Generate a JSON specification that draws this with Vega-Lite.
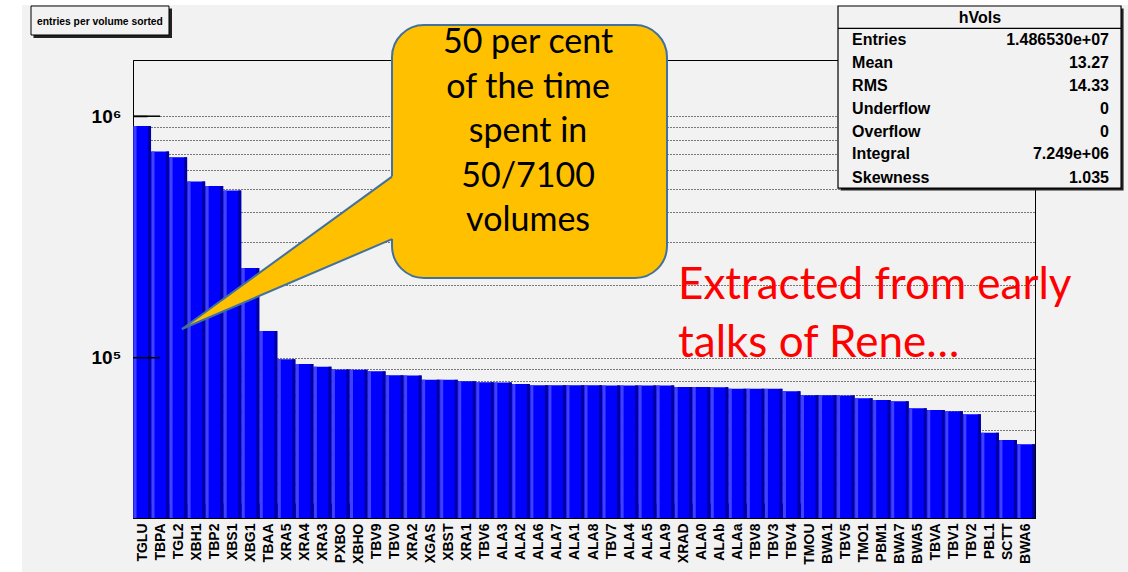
{
  "$schema": "https://vega.github.io/schema/vega-lite/v6.json",
  "width": 902,
  "height": 458,
  "autosize": {"type": "none"},
  "padding": {"left": 133, "top": 60, "right": 93, "bottom": 54},
  "background": "#f2f2f2",
  "config": {"view": {"stroke": "#000000", "strokeWidth": 1, "fill": "#f2f2f2"}},
  "datasets": {
    "bars": [
      {"name": "TGLU", "value": 911000}, {"name": "TBPA", "value": 715000}, {"name": "TGL2", "value": 676000},
      {"name": "XBH1", "value": 536000}, {"name": "TBP2", "value": 514000}, {"name": "XBS1", "value": 492000},
      {"name": "XBG1", "value": 235000}, {"name": "TBAA", "value": 129000}, {"name": "XRA5", "value": 98500},
      {"name": "XRA4", "value": 94200}, {"name": "XRA3", "value": 91800}, {"name": "PXBO", "value": 89400},
      {"name": "XBHO", "value": 89200}, {"name": "TBV9", "value": 87800}, {"name": "TBV0", "value": 84500},
      {"name": "XRA2", "value": 84400}, {"name": "XGAS", "value": 81100}, {"name": "XBST", "value": 81000},
      {"name": "XRA1", "value": 79800}, {"name": "TBV6", "value": 79100}, {"name": "ALA3", "value": 79000},
      {"name": "ALA2", "value": 77800}, {"name": "ALA6", "value": 76900}, {"name": "ALA7", "value": 76900},
      {"name": "ALA1", "value": 76900}, {"name": "ALA8", "value": 76900}, {"name": "TBV7", "value": 76800},
      {"name": "ALA4", "value": 76800}, {"name": "ALA5", "value": 76800}, {"name": "ALA9", "value": 76800},
      {"name": "XRAD", "value": 75600}, {"name": "ALA0", "value": 75600}, {"name": "ALAb", "value": 75500},
      {"name": "ALAa", "value": 74400}, {"name": "TBV8", "value": 74400}, {"name": "TBV3", "value": 74300},
      {"name": "TBV4", "value": 72600}, {"name": "TMOU", "value": 69900}, {"name": "BWA1", "value": 69900},
      {"name": "TBV5", "value": 69800}, {"name": "TMO1", "value": 67900}, {"name": "PBM1", "value": 66800},
      {"name": "BWA7", "value": 66000}, {"name": "BWA5", "value": 61700}, {"name": "TBVA", "value": 60700},
      {"name": "TBV1", "value": 60000}, {"name": "TBV2", "value": 58300}, {"name": "PBL1", "value": 48900},
      {"name": "SCTT", "value": 45600}, {"name": "BWA6", "value": 43800}
    ]
  },
  "layer": [
    {
      "data": {"name": "bars"},
      "mark": {"type": "bar", "color": "#0000ff", "width": {"band": 1}},
      "encoding": {
        "x": {
          "field": "name", "type": "nominal", "sort": null,
          "scale": {"paddingInner": 0, "paddingOuter": 0},
          "axis": {
            "title": null, "labelAngle": -90, "labelAlign": "right", "labelBaseline": "middle",
            "labelFont": "Liberation Sans", "labelFontWeight": "bold", "labelFontSize": 14,
            "labelColor": "#000000", "labelPadding": 20, "labelOverlap": false,
            "tickBand": "extent", "tickSize": -15, "tickColor": "#000000", "tickWidth": 1,
            "domainColor": "#000000", "domainWidth": 1
          }
        },
        "y": {
          "field": "value", "type": "quantitative", "stack": null,
          "scale": {"type": "log", "domain": [21690, 1709000], "nice": false},
          "axis": {
            "title": null,
            "values": [30000, 40000, 50000, 60000, 70000, 80000, 90000, 100000, 200000, 300000, 400000, 500000, 600000, 700000, 800000, 900000, 1000000],
            "labelExpr": "datum.value == 100000 ? '10⁵' : (datum.value == 1000000 ? '10⁶' : '')",
            "labelOverlap": false, "labelFont": "Liberation Sans", "labelFontWeight": "bold",
            "labelFontSize": 19, "labelColor": "#000000", "labelPadding": 26,
            "tickSize": -14, "tickColor": "#000000", "tickWidth": 1.5,
            "grid": true, "gridColor": "#000000", "gridDash": [1, 2], "gridWidth": 1, "gridOpacity": 1,
            "domainColor": "#000000", "domainWidth": 1
          }
        }
      }
    },
    {
      "data": {"name": "bars"},
      "mark": {"type": "bar", "color": "#4040ff", "width": {"band": 0.166}, "xOffset": -7.0},
      "encoding": {
        "x": {"field": "name", "type": "nominal", "sort": null, "scale": {"paddingInner": 0, "paddingOuter": 0}, "axis": null},
        "y": {"field": "value", "type": "quantitative", "stack": null, "scale": {"type": "log", "domain": [21690, 1709000], "nice": false}, "axis": null}
      }
    },
    {
      "data": {"name": "bars"},
      "mark": {"type": "bar", "color": "#0000a0", "width": {"band": 0.166}, "xOffset": 7.5},
      "encoding": {
        "x": {"field": "name", "type": "nominal", "sort": null, "scale": {"paddingInner": 0, "paddingOuter": 0}, "axis": null},
        "y": {"field": "value", "type": "quantitative", "stack": null, "scale": {"type": "log", "domain": [21690, 1709000], "nice": false}, "axis": null}
      }
    },
    {
      "data": {"values": [{"u": 0, "u2": 1.5, "v": 100000}, {"u": 0, "u2": 1.5, "v": 1000000}]},
      "mark": {"type": "rule", "color": "#000000", "strokeWidth": 1.5},
      "encoding": {
        "x": {"field": "u", "type": "quantitative", "scale": {"domain": [0, 50], "nice": false, "zero": false}, "axis": null},
        "x2": {"field": "u2"},
        "y": {"field": "v", "type": "quantitative", "scale": {"type": "log", "domain": [21690, 1709000], "nice": false}, "axis": null}
      }
    },
    {
      "data": {"values": [
        {"u": -8, "u2": -6.153, "v": 3330000, "v2": 12000},
        {"u": -8, "u2": 60, "v": 3330000, "v2": 2887000}
      ]},
      "mark": {"type": "rect", "color": "#ffffff"},
      "encoding": {
        "x": {"field": "u", "type": "quantitative", "scale": {"domain": [0, 50], "nice": false, "zero": false}, "axis": null},
        "x2": {"field": "u2"},
        "y": {"field": "v", "type": "quantitative", "scale": {"type": "log", "domain": [21690, 1709000], "nice": false}, "axis": null},
        "y2": {"field": "v2"}
      }
    },
    {
      "data": {"values": [{"u": -5.515, "u2": 2.162, "v": 2792000, "v2": 2107000}]},
      "mark": {"type": "rect", "color": "#222222"},
      "encoding": {
        "x": {"field": "u", "type": "quantitative", "scale": {"domain": [0, 50], "nice": false, "zero": false}, "axis": null},
        "x2": {"field": "u2"},
        "y": {"field": "v", "type": "quantitative", "scale": {"type": "log", "domain": [21690, 1709000], "nice": false}, "axis": null},
        "y2": {"field": "v2"}
      }
    },
    {
      "data": {"values": [{"u": -5.654, "u2": 1.995, "v": 2860000, "v2": 2169000}]},
      "mark": {"type": "rect", "fill": "#f2f2f2", "stroke": "#000000", "strokeWidth": 1},
      "encoding": {
        "x": {"field": "u", "type": "quantitative", "scale": {"domain": [0, 50], "nice": false, "zero": false}, "axis": null},
        "x2": {"field": "u2"},
        "y": {"field": "v", "type": "quantitative", "scale": {"type": "log", "domain": [21690, 1709000], "nice": false}, "axis": null},
        "y2": {"field": "v2"}
      }
    },
    {
      "data": {"values": [{"u": -5.322, "v": 2466000, "t": "entries per volume sorted"}]},
      "mark": {"type": "text", "align": "left", "baseline": "middle", "font": "Liberation Sans", "fontWeight": "bold", "fontSize": 10.3, "color": "#000000"},
      "encoding": {
        "x": {"field": "u", "type": "quantitative", "scale": {"domain": [0, 50], "nice": false, "zero": false}, "axis": null},
        "y": {"field": "v", "type": "quantitative", "scale": {"type": "log", "domain": [21690, 1709000], "nice": false}, "axis": null},
        "text": {"field": "t"}
      }
    },
    {
      "data": {"values": [{"u": 14.357, "u2": 29.6, "v": 2385000, "v2": 213800}]},
      "mark": {"type": "rect", "fill": "#ffc000", "stroke": "#41719c", "strokeWidth": 2, "cornerRadius": 32},
      "encoding": {
        "x": {"field": "u", "type": "quantitative", "scale": {"domain": [0, 50], "nice": false, "zero": false}, "axis": null},
        "x2": {"field": "u2"},
        "y": {"field": "v", "type": "quantitative", "scale": {"type": "log", "domain": [21690, 1709000], "nice": false}, "axis": null},
        "y2": {"field": "v2"}
      }
    },
    {
      "data": {"values": [{"u": 2.716, "v": 131480, "v2": 131480}, {"u": 14.634, "v": 581900, "v2": 316100}]},
      "mark": {"type": "area", "color": "#ffc000", "opacity": 1},
      "encoding": {
        "x": {"field": "u", "type": "quantitative", "scale": {"domain": [0, 50], "nice": false, "zero": false}, "axis": null},
        "y": {"field": "v", "type": "quantitative", "scale": {"type": "log", "domain": [21690, 1709000], "nice": false}, "axis": null},
        "y2": {"field": "v2"}
      }
    },
    {
      "data": {"values": [
        {"edge": "a", "o": 0, "u": 2.716, "v": 131480}, {"edge": "a", "o": 1, "u": 14.357, "v": 562200},
        {"edge": "b", "o": 0, "u": 2.716, "v": 131480}, {"edge": "b", "o": 1, "u": 14.357, "v": 309700}
      ]},
      "mark": {"type": "line", "color": "#41719c", "strokeWidth": 2},
      "encoding": {
        "x": {"field": "u", "type": "quantitative", "scale": {"domain": [0, 50], "nice": false, "zero": false}, "axis": null},
        "y": {"field": "v", "type": "quantitative", "scale": {"type": "log", "domain": [21690, 1709000], "nice": false}, "axis": null},
        "detail": {"field": "edge"},
        "order": {"field": "o"}
      }
    },
    {
      "data": {"values": [
        {"u": 21.9, "v": 1821700, "t": "50 per cent"},
        {"u": 21.9, "v": 1191700, "t": "of the time"},
        {"u": 21.9, "v": 779700, "t": "spent in"},
        {"u": 21.9, "v": 510100, "t": "50/7100"},
        {"u": 21.9, "v": 333700, "t": "volumes"}
      ]},
      "mark": {"type": "text", "align": "center", "baseline": "alphabetic", "font": "Lato", "fontSize": 34, "color": "#000000"},
      "encoding": {
        "x": {"field": "u", "type": "quantitative", "scale": {"domain": [0, 50], "nice": false, "zero": false}, "axis": null},
        "y": {"field": "v", "type": "quantitative", "scale": {"type": "log", "domain": [21690, 1709000], "nice": false}, "axis": null},
        "text": {"field": "t"}
      }
    },
    {
      "data": {"values": [
        {"u": 30.21, "v": 175000, "t": "Extracted from early"},
        {"u": 30.21, "v": 100960, "t": "talks of Rene…"}
      ]},
      "mark": {"type": "text", "align": "left", "baseline": "alphabetic", "font": "Lato", "fontSize": 44, "color": "#ff0000"},
      "encoding": {
        "x": {"field": "u", "type": "quantitative", "scale": {"domain": [0, 50], "nice": false, "zero": false}, "axis": null},
        "y": {"field": "v", "type": "quantitative", "scale": {"type": "log", "domain": [21690, 1709000], "nice": false}, "axis": null},
        "text": {"field": "t"}
      }
    },
    {
      "data": {"values": [{"u": 39.22, "u2": 54.91, "v": 2792000, "v2": 492400}]},
      "mark": {"type": "rect", "color": "#222222"},
      "encoding": {
        "x": {"field": "u", "type": "quantitative", "scale": {"domain": [0, 50], "nice": false, "zero": false}, "axis": null},
        "x2": {"field": "u2"},
        "y": {"field": "v", "type": "quantitative", "scale": {"type": "log", "domain": [21690, 1709000], "nice": false}, "axis": null},
        "y2": {"field": "v2"}
      }
    },
    {
      "data": {"values": [{"u": 39.08, "u2": 54.77, "v": 2860000, "v2": 504200}]},
      "mark": {"type": "rect", "fill": "#f2f2f2", "stroke": "#000000", "strokeWidth": 1.2},
      "encoding": {
        "x": {"field": "u", "type": "quantitative", "scale": {"domain": [0, 50], "nice": false, "zero": false}, "axis": null},
        "x2": {"field": "u2"},
        "y": {"field": "v", "type": "quantitative", "scale": {"type": "log", "domain": [21690, 1709000], "nice": false}, "axis": null},
        "y2": {"field": "v2"}
      }
    },
    {
      "data": {"values": [{"u": 39.08, "u2": 54.77, "v": 2312000}]},
      "mark": {"type": "rule", "color": "#000000", "strokeWidth": 1.2},
      "encoding": {
        "x": {"field": "u", "type": "quantitative", "scale": {"domain": [0, 50], "nice": false, "zero": false}, "axis": null},
        "x2": {"field": "u2"},
        "y": {"field": "v", "type": "quantitative", "scale": {"type": "log", "domain": [21690, 1709000], "nice": false}, "axis": null}
      }
    },
    {
      "data": {"values": [{"u": 46.95, "v": 2543000, "t": "hVols"}]},
      "mark": {"type": "text", "align": "center", "baseline": "middle", "font": "Liberation Sans", "fontWeight": "bold", "fontSize": 16, "color": "#000000"},
      "encoding": {
        "x": {"field": "u", "type": "quantitative", "scale": {"domain": [0, 50], "nice": false, "zero": false}, "axis": null},
        "y": {"field": "v", "type": "quantitative", "scale": {"type": "log", "domain": [21690, 1709000], "nice": false}, "axis": null},
        "text": {"field": "t"}
      }
    },
    {
      "data": {"values": [
        {"u": 39.86, "v": 2068000, "t": "Entries"},
        {"u": 39.86, "v": 1656000, "t": "Mean"},
        {"u": 39.86, "v": 1334000, "t": "RMS"},
        {"u": 39.86, "v": 1068000, "t": "Underflow"},
        {"u": 39.86, "v": 857700, "t": "Overflow"},
        {"u": 39.86, "v": 697400, "t": "Integral"},
        {"u": 39.86, "v": 556500, "t": "Skewness"}
      ]},
      "mark": {"type": "text", "align": "left", "baseline": "middle", "font": "Liberation Sans", "fontWeight": "bold", "fontSize": 16, "color": "#000000"},
      "encoding": {
        "x": {"field": "u", "type": "quantitative", "scale": {"domain": [0, 50], "nice": false, "zero": false}, "axis": null},
        "y": {"field": "v", "type": "quantitative", "scale": {"type": "log", "domain": [21690, 1709000], "nice": false}, "axis": null},
        "text": {"field": "t"}
      }
    },
    {
      "data": {"values": [
        {"u": 54.1, "v": 2068000, "t": "1.486530e+07"},
        {"u": 54.1, "v": 1656000, "t": "13.27"},
        {"u": 54.1, "v": 1334000, "t": "14.33"},
        {"u": 54.1, "v": 1068000, "t": "0"},
        {"u": 54.1, "v": 857700, "t": "0"},
        {"u": 54.1, "v": 697400, "t": "7.249e+06"},
        {"u": 54.1, "v": 556500, "t": "1.035"}
      ]},
      "mark": {"type": "text", "align": "right", "baseline": "middle", "font": "Liberation Sans", "fontWeight": "bold", "fontSize": 16, "color": "#000000"},
      "encoding": {
        "x": {"field": "u", "type": "quantitative", "scale": {"domain": [0, 50], "nice": false, "zero": false}, "axis": null},
        "y": {"field": "v", "type": "quantitative", "scale": {"type": "log", "domain": [21690, 1709000], "nice": false}, "axis": null},
        "text": {"field": "t"}
      }
    }
  ],
  "resolve": {"scale": {"x": "independent", "y": "independent"}, "axis": {"x": "independent", "y": "independent"}}
}
